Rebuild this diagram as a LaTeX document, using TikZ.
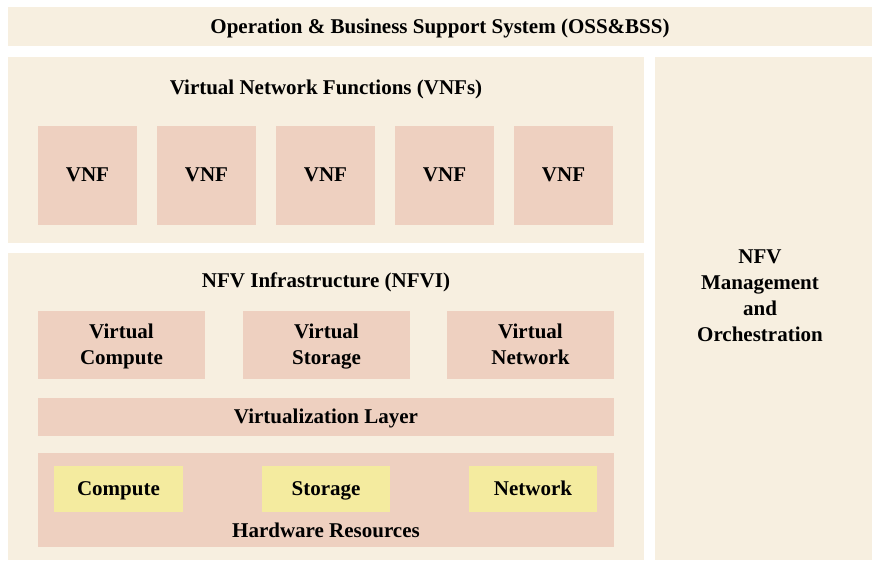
\documentclass[tikz,border=0pt]{standalone}
\usepackage{fontspec}
\setmainfont{Liberation Serif}
\usepackage{tikz}
\definecolor{fondito}{HTML}{F7EFE0}
\definecolor{rosita}{HTML}{EED0C0}
\definecolor{amarillito}{HTML}{F4EB9F}
\tikzset{
  capa/.style={fill=fondito, draw=none, inner sep=0pt, align=center},
  bloque/.style={fill=rosita, draw=none, inner sep=0pt, align=center},
  recurso/.style={fill=amarillito, draw=none, inner sep=0pt, align=center},
  titulo/.style={inner sep=0pt, align=center},
  every node/.append style={font=\fontsize{21}{26}\selectfont\bfseries, text depth=1pt}
}

\begin{document}
\begin{tikzpicture}[x=1pt, y=-1pt]
	\useasboundingbox (0,0) rectangle (872,560);

	% top layer
	\node[capa, minimum width=864pt, minimum height=39pt] (oss) at (440,26.5) {Operation \& Business Support System (OSS\&BSS)};

	% VNFs
	\node[capa, minimum width=636pt, minimum height=186pt] (vnfs) at (326,150) {};
	\node[titulo] (vnfstit) at (326,88) {Virtual Network Functions (VNFs)};
	\foreach \i/\x in {1/87.5, 2/206.5, 3/325.5, 4/444.5, 5/563.5}
		\node[bloque, minimum width=99pt, minimum height=99pt] (vnf\i) at (\x,175.5) {VNF};

	% NFVI
	\node[capa, minimum width=636pt, minimum height=307pt] (nfvi) at (326,406.5) {};
	\node[titulo] (nfvitit) at (326,281) {NFV Infrastructure (NFVI)};
	\node[bloque, minimum width=167pt, minimum height=68pt] (vcomp) at (121.5,345) {Virtual\\Compute};
	\node[bloque, minimum width=167pt, minimum height=68pt] (vstor) at (326.5,345) {Virtual\\Storage};
	\node[bloque, minimum width=167pt, minimum height=68pt] (vnet) at (530.5,345) {Virtual\\Network};
	\node[bloque, minimum width=576pt, minimum height=38pt] (virt) at (326,417) {Virtualization Layer};
	\node[bloque, minimum width=576pt, minimum height=94pt] (hw) at (326,500) {};
	\node[titulo] (hwtit) at (326,531) {Hardware Resources};
	\node[recurso, minimum width=129pt, minimum height=46pt] (comp) at (118.5,489) {Compute};
	\node[recurso, minimum width=128pt, minimum height=46pt] (stor) at (326,489) {Storage};
	\node[recurso, minimum width=128pt, minimum height=46pt] (net) at (533,489) {Network};

	% MANO
	\node[capa, minimum width=217pt, minimum height=503pt] (mano) at (763.5,308.5) {};
	\node[titulo] (manotit) at (760,296) {NFV\\Management\\and\\Orchestration};

\end{tikzpicture}
\end{document}
